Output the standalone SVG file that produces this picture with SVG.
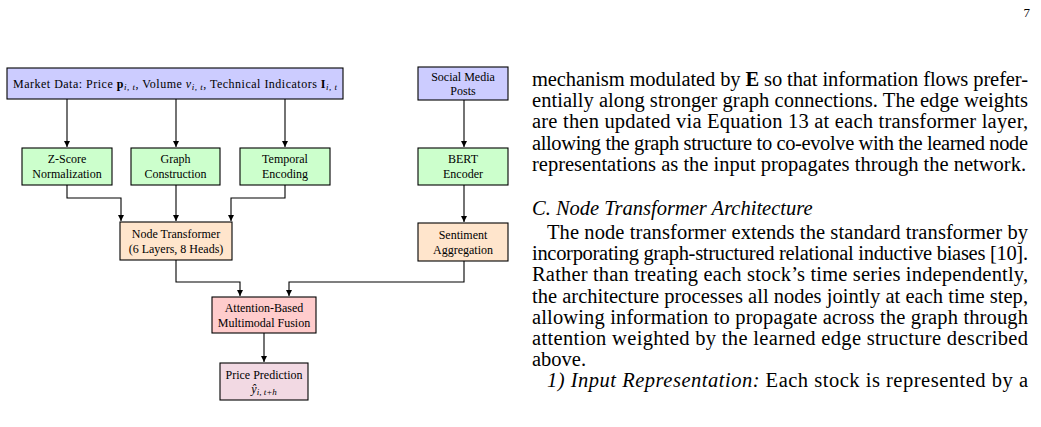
<svg xmlns="http://www.w3.org/2000/svg" width="1041" height="427" viewBox="0 0 1041 427">
<defs>
<marker id="ah" markerUnits="userSpaceOnUse" markerWidth="7" markerHeight="7" refX="6" refY="3" orient="auto">
<path d="M0,0 L6,3 L0,6 z" fill="#000"/>
</marker>
<style>
.box{stroke:#000;stroke-width:1.1}
.blue{fill:#ccccff}.green{fill:#ccffcc}.orange{fill:#ffe5cc}.red{fill:#ffcccc}.purple{fill:#f2d9e3}
.nt{font-family:"Liberation Serif",serif;font-size:12px;fill:#000;text-anchor:middle}
.conn path{fill:none;stroke:#000;stroke-width:1.1;marker-end:url(#ah)}
.body text{font-family:"Liberation Serif",serif;font-size:20.5px;fill:#000}
.pg{font-family:"Liberation Serif",serif;font-size:13px;fill:#000}
.sub{font-size:9px;font-style:italic}
</style>
</defs>
<rect width="1041" height="427" fill="#fff"/>

<g class="conn">
<path d="M67,99 V147"/>
<path d="M176,99 V147"/>
<path d="M285,99 V147"/>
<path d="M464,100 V147"/>
<path d="M464,185 V222"/>
<path d="M67,185 V198 H121 V221"/>
<path d="M176,185 V221"/>
<path d="M285,185 V198 H231 V221"/>
<path d="M176,260 V282 H240 V296"/>
<path d="M464,261 V282 H289 V296"/>
<path d="M264,333 V362"/>
</g>

<g id="market">
<rect class="box blue" x="7" y="68" width="336" height="31"/>
<text class="nt" x="175" y="87.5" textLength="324" lengthAdjust="spacing">Market Data: Price <tspan font-weight="bold">p</tspan><tspan class="sub" dy="2">i, t</tspan><tspan dy="-2">, Volume </tspan><tspan font-style="italic">v</tspan><tspan class="sub" dy="2">i, t</tspan><tspan dy="-2">, Technical Indicators </tspan><tspan font-weight="bold">I</tspan><tspan class="sub" dy="2">i, t</tspan></text>
</g>

<g id="social">
<rect class="box blue" x="418" y="67" width="90" height="33"/>
<text class="nt" x="463" y="80.5">Social Media</text>
<text class="nt" x="463" y="95">Posts</text>
</g>

<g id="zscore">
<rect class="box green" x="22" y="148" width="90" height="37"/>
<text class="nt" x="67" y="163">Z-Score</text>
<text class="nt" x="67" y="178">Normalization</text>
</g>

<g id="graph">
<rect class="box green" x="131" y="148" width="89" height="37"/>
<text class="nt" x="175.5" y="163">Graph</text>
<text class="nt" x="175.5" y="178">Construction</text>
</g>

<g id="temporal">
<rect class="box green" x="240" y="148" width="90" height="37"/>
<text class="nt" x="285" y="163">Temporal</text>
<text class="nt" x="285" y="178">Encoding</text>
</g>

<g id="bert">
<rect class="box green" x="418" y="148" width="90" height="37"/>
<text class="nt" x="463" y="163">BERT</text>
<text class="nt" x="463" y="178">Encoder</text>
</g>

<g id="nodetransformer">
<rect class="box orange" x="120" y="222" width="112" height="38"/>
<text class="nt" x="176" y="237.5">Node Transformer</text>
<text class="nt" x="176" y="252.5">(6 Layers, 8 Heads)</text>
</g>

<g id="sentiment">
<rect class="box orange" x="418" y="223" width="90" height="38"/>
<text class="nt" x="463" y="238.5">Sentiment</text>
<text class="nt" x="463" y="253.5">Aggregation</text>
</g>

<g id="fusion">
<rect class="box red" x="212" y="297" width="104" height="36"/>
<text class="nt" x="264" y="312">Attention-Based</text>
<text class="nt" x="264" y="327">Multimodal Fusion</text>
</g>

<g id="prediction">
<rect class="box purple" x="220" y="363" width="88" height="37"/>
<text class="nt" x="264" y="378.5">Price Prediction</text>
<text class="nt" x="264" y="393"><tspan font-style="italic">ŷ</tspan><tspan class="sub" dy="2">i, t+h</tspan></text>
</g>

<text class="pg" x="1030" y="17" text-anchor="end">7</text>

<g class="body">
<text x="532" y="86" textLength="496" lengthAdjust="spacing">mechanism modulated by <tspan font-weight="bold">E</tspan> so that information flows prefer-</text>
<text x="532" y="107.2" textLength="496" lengthAdjust="spacing">entially along stronger graph connections. The edge weights</text>
<text x="532" y="128.4" textLength="496" lengthAdjust="spacing">are then updated via Equation 13 at each transformer layer,</text>
<text x="532" y="149.6" textLength="496" lengthAdjust="spacing">allowing the graph structure to co-evolve with the learned node</text>
<text x="532" y="170.8" textLength="494" lengthAdjust="spacing">representations as the input propagates through the network.</text>
<text x="532" y="215" font-style="italic">C. Node Transformer Architecture</text>
<text x="547" y="239" textLength="481" lengthAdjust="spacing">The node transformer extends the standard transformer by</text>
<text x="532" y="260.2" textLength="496" lengthAdjust="spacing">incorporating graph-structured relational inductive biases [10].</text>
<text x="532" y="281.4" textLength="496" lengthAdjust="spacing">Rather than treating each stock’s time series independently,</text>
<text x="532" y="302.6" textLength="496" lengthAdjust="spacing">the architecture processes all nodes jointly at each time step,</text>
<text x="532" y="323.8" textLength="496" lengthAdjust="spacing">allowing information to propagate across the graph through</text>
<text x="532" y="345" textLength="496" lengthAdjust="spacing">attention weighted by the learned edge structure described</text>
<text x="532" y="366.2">above.</text>
<text x="547" y="387.4" textLength="481" lengthAdjust="spacing"><tspan font-style="italic">1) Input Representation:</tspan> Each stock is represented by a</text>
</g>
</svg>
